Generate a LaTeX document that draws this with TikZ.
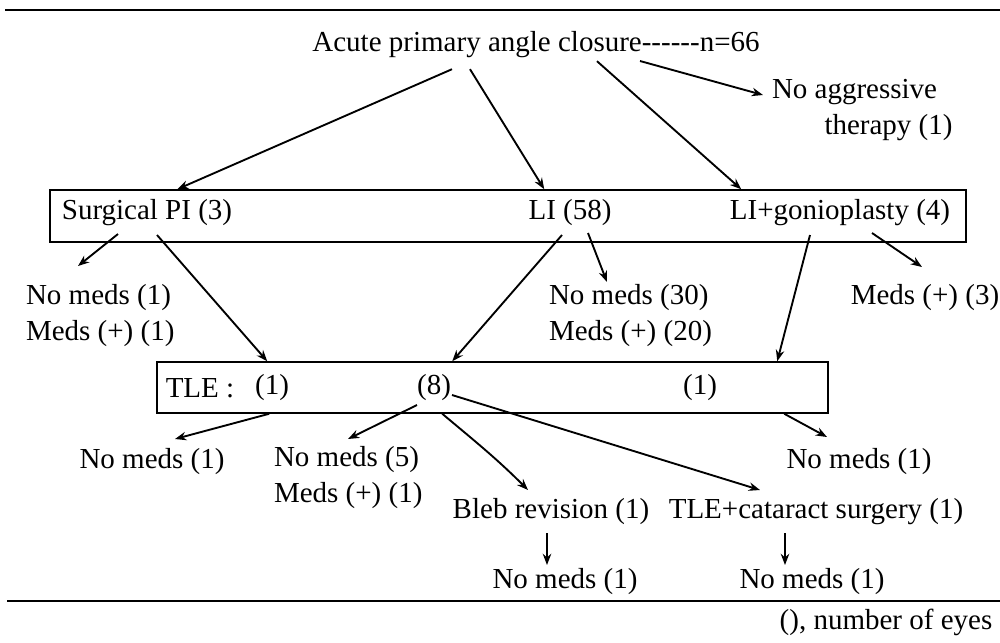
\documentclass[tikz,border=0pt]{standalone}
\usepackage{fontspec}
\setmainfont{Liberation Serif}
\usepackage{tikz}
\usetikzlibrary{calc,arrows.meta}
\tikzset {>={Stealth[length=4.5pt,width=3.4pt]}}
\tikzset{lbl/.style={inner sep=1pt,align=left},
  arr/.style={->,line width=0.75pt},
  boxnode/.style={draw,line width=0.6pt,inner sep=0pt}}

\begin{document}
\begin{tikzpicture}[x=0.4pt,y=-0.4pt,font=\fontsize{11.6}{14.4}\selectfont]
\useasboundingbox (0,0) rectangle (1000,642);
% rules
\coordinate (topL) at (5,10);
\coordinate (topR) at (1000,10);
\coordinate (botL) at (7,601);
\coordinate (botR) at (1000,601);
\draw[line width=0.8pt] (topL) -- (topR);
\draw[line width=0.8pt] (botL) -- (botR);
% top level
\node[lbl] (title) at (536,45) {Acute primary angle closure-{}-{}-{}-{}-{}-n=66};
\node[lbl,anchor=west] (noagg) at (769,110) {No aggressive\\\hspace*{21pt}therapy (1)};
\node[boxnode,minimum width=366.4pt,minimum height=20.8pt] (box1) at (508,216) {};
\node[lbl] (spi) at (147,213) {Surgical PI (3)};
\node[lbl] (li) at (570,213) {LI (58)};
\node[lbl] (lig) at (840,213) {LI+gonioplasty (4)};
\draw[arr] ($(title.south)+(-84,8)$) -- ($(box1.north west)+(128,0)$);
\draw[arr] ($(title.south)+(-66,8)$) -- ($(box1.north west)+(495,0)$);
\draw[arr] ($(title.south)+(61,0)$) -- ($(box1.north west)+(692,0)$);
\draw[arr] ($(title)+(104,16)$) -- ($(noagg.west)+(-6,-15)$);
% after iridotomy
\node[lbl,anchor=west] (m1) at (23,316) {No meds (1)\\Meds (+) (1)};
\node[lbl,anchor=west] (m30) at (546,316) {No meds (30)\\Meds (+) (20)};
\node[lbl] (m3) at (925,298) {Meds (+) (3)};
\draw[arr] ($(spi)+(-29,21)$) -- ($(m1.west)+(55,-50)$);
\draw[arr] ($(li)+(18,20)$) -- ($(m30.west)+(61,-34)$);
\draw[arr] ($(lig)+(32,20)$) -- ($(m3)+(-3,-31)$);
% TLE box
\node[boxnode,minimum width=268.4pt,minimum height=20.4pt] (box2) at (492.5,387.5) {};
\node[lbl] (tle) at (200,388) {TLE :};
\node[lbl] (t1) at (272,388) {(1)};
\node[lbl] (t8) at (434,388) {(8)};
\node[lbl] (t1b) at (700,388) {(1)};
\draw[arr] ($(spi)+(10,22)$) -- ($(box2.north west)+(111,0)$);
\draw[arr] ($(li)+(-8,22)$) -- ($(box2.north west)+(296,0)$);
\draw[arr] ($(lig)+(-30,22)$) -- ($(box2.north west)+(621,0)$);
% after TLE
\node[lbl] (n1a) at (152,462) {No meds (1)};
\node[lbl,anchor=west] (n5) at (271,478) {No meds (5)\\Meds (+) (1)};
\node[lbl] (n1b) at (859,462) {No meds (1)};
\node[lbl] (bleb) at (551,512) {Bleb revision (1)};
\node[lbl] (cat) at (816,512) {TLE+cataract surgery (1)};
\node[lbl] (n1c) at (565,582) {No meds (1)};
\node[lbl] (n1d) at (812,582) {No meds (1)};
\draw[arr] ($(box2.south west)+(113,0)$) -- ($(n1a)+(23,-23)$);
\draw[arr] ($(t8)+(-17,17)$) -- ($(n5.west)+(77,-39)$);
\draw[arr] ($(box2.south west)+(286,0)$) to[out=-40,in=135] ($(bleb)+(-23,-22)$);
\draw[arr] ($(t8)+(18,7)$) -- ($(cat)+(-56,-22)$);
\draw[arr] ($(box2.south west)+(628,0)$) -- ($(n1b)+(-32,-25)$);
\draw[arr] ($(bleb)+(-4,21)$) -- ($(n1c)+(-18,-17)$);
\draw[arr] ($(cat)+(-31,21)$) -- ($(n1d)+(-27,-17)$);
\node[lbl] (note) at (886,622) {(), number of eyes};
\end{tikzpicture}
\end{document}
